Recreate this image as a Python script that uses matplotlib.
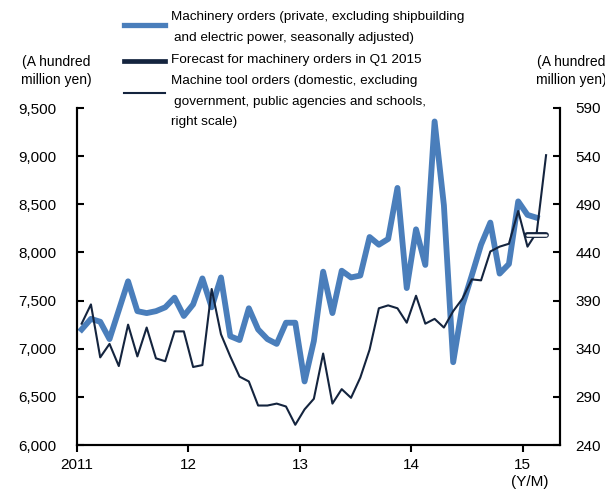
import numpy as np
import matplotlib.pyplot as plt
from matplotlib.lines import Line2D

# monthly series starting Jan 2011
machinery_orders = [7200, 7310, 7280, 7100, 7400, 7700, 7390, 7370, 7390, 7430, 7530, 7340,
                    7460, 7730, 7430, 7740, 7130, 7090, 7420, 7200, 7100, 7050, 7270, 7270,
                    6660, 7080, 7800, 7370, 7810, 7740, 7760, 8160, 8080, 8140, 8670, 7630,
                    8240, 7870, 9360, 8490, 6860, 7450, 7760, 8080, 8310, 7780, 7880, 8530,
                    8390, 8360]
tool_orders = [366, 386, 331, 345, 322, 365, 332, 362, 330, 327, 358, 358,
               321, 323, 402, 355, 332, 311, 306, 281, 281, 283, 280, 261,
               277, 288, 335, 283, 298, 289, 310, 339, 382, 385, 382, 367,
               395, 366, 371, 362, 379, 392, 412, 411, 441, 446, 449, 483,
               446, 461, 541]
forecast_months = [48, 50]          # Jan-Mar 2015
forecast_value = 8180

year_ticks = [0, 12, 24, 36, 48]
year_labels = ["2011", "12", "13", "14", "15"]
left_ticks = [6000, 6500, 7000, 7500, 8000, 8500, 9000, 9500]
right_ticks = [240, 290, 340, 390, 440, 490, 540, 590]

blue = "#4a7ebb"
navy = "#14243e"

plt.rcParams["font.family"] = ["Liberation Sans", "DejaVu Sans"]

fig = plt.figure(figsize=(6.05, 4.9), dpi=100)
ax = fig.add_axes([77 / 605, 45 / 490, 483 / 605, 337 / 490])
ax2 = ax.twinx()

x_mo = np.arange(len(machinery_orders)) + 0.5
x_tool = np.arange(len(tool_orders)) + 0.5

ax.plot(x_mo, machinery_orders, color=blue, lw=4.2)
ax2.plot(x_tool, tool_orders, color=navy, lw=1.5)

# forecast bar: dark outline with white core, on left scale
fx = np.array(forecast_months) + 0.5
ax2.plot(fx, [forecast_value] * 2, color=navy, lw=4.2, transform=ax.transData,
         solid_capstyle="round")
ax2.plot(fx, [forecast_value] * 2, color="white", lw=1.8, transform=ax.transData,
         solid_capstyle="round")

ax.set_xlim(0, 52)
ax.set_ylim(6000, 9500)
ax2.set_ylim(240, 590)

ax.set_xticks(year_ticks)
ax.set_xticklabels(year_labels)
ax.set_yticks(left_ticks)
ax.set_yticklabels([f"{v:,}" for v in left_ticks])
ax2.set_yticks(right_ticks)

for a in (ax, ax2):
    a.spines["top"].set_visible(False)
    for s in a.spines.values():
        s.set_linewidth(1.5)
        s.set_color("black")

ax.tick_params(axis="x", direction="out", length=5, width=1.5, pad=4, labelsize=11)
ax.yaxis.set_tick_params(direction="in", length=5, width=1.5, pad=15, labelsize=11)
ax2.yaxis.set_tick_params(direction="in", length=5, width=1.5, pad=11, labelsize=11)

# unit labels
fig.text(56 / 605, 1 - 71 / 490, "(A hundred\nmillion yen)", ha="center", va="center",
         fontsize=10, linespacing=1.4)
fig.text(571 / 605, 1 - 71 / 490, "(A hundred\nmillion yen)", ha="center", va="center",
         fontsize=10, linespacing=1.4)
fig.text(530 / 605, 1 - 482 / 490, "(Y/M)", ha="center", va="center", fontsize=11)

# legend
def key(y, color, lw):
    fig.add_artist(Line2D([124 / 605, 165 / 605], [1 - y / 490] * 2, color=color, lw=lw,
                          transform=fig.transFigure))

key(25, blue, 3.8)
key(61, navy, 3.4)
key(93, navy, 1.5)

legend_lines = [
    (171, 17, "Machinery orders (private, excluding shipbuilding"),
    (174, 38, "and electric power, seasonally adjusted)"),
    (171, 60, "Forecast for machinery orders in Q1 2015"),
    (171, 81, "Machine tool orders (domestic, excluding"),
    (174, 102, "government, public agencies and schools,"),
    (171, 122, "right scale)"),
]
for lx, ly, txt in legend_lines:
    fig.text(lx / 605, 1 - ly / 490, txt, ha="left", va="center", fontsize=9.7)

fig.savefig("out.png", dpi=100)
